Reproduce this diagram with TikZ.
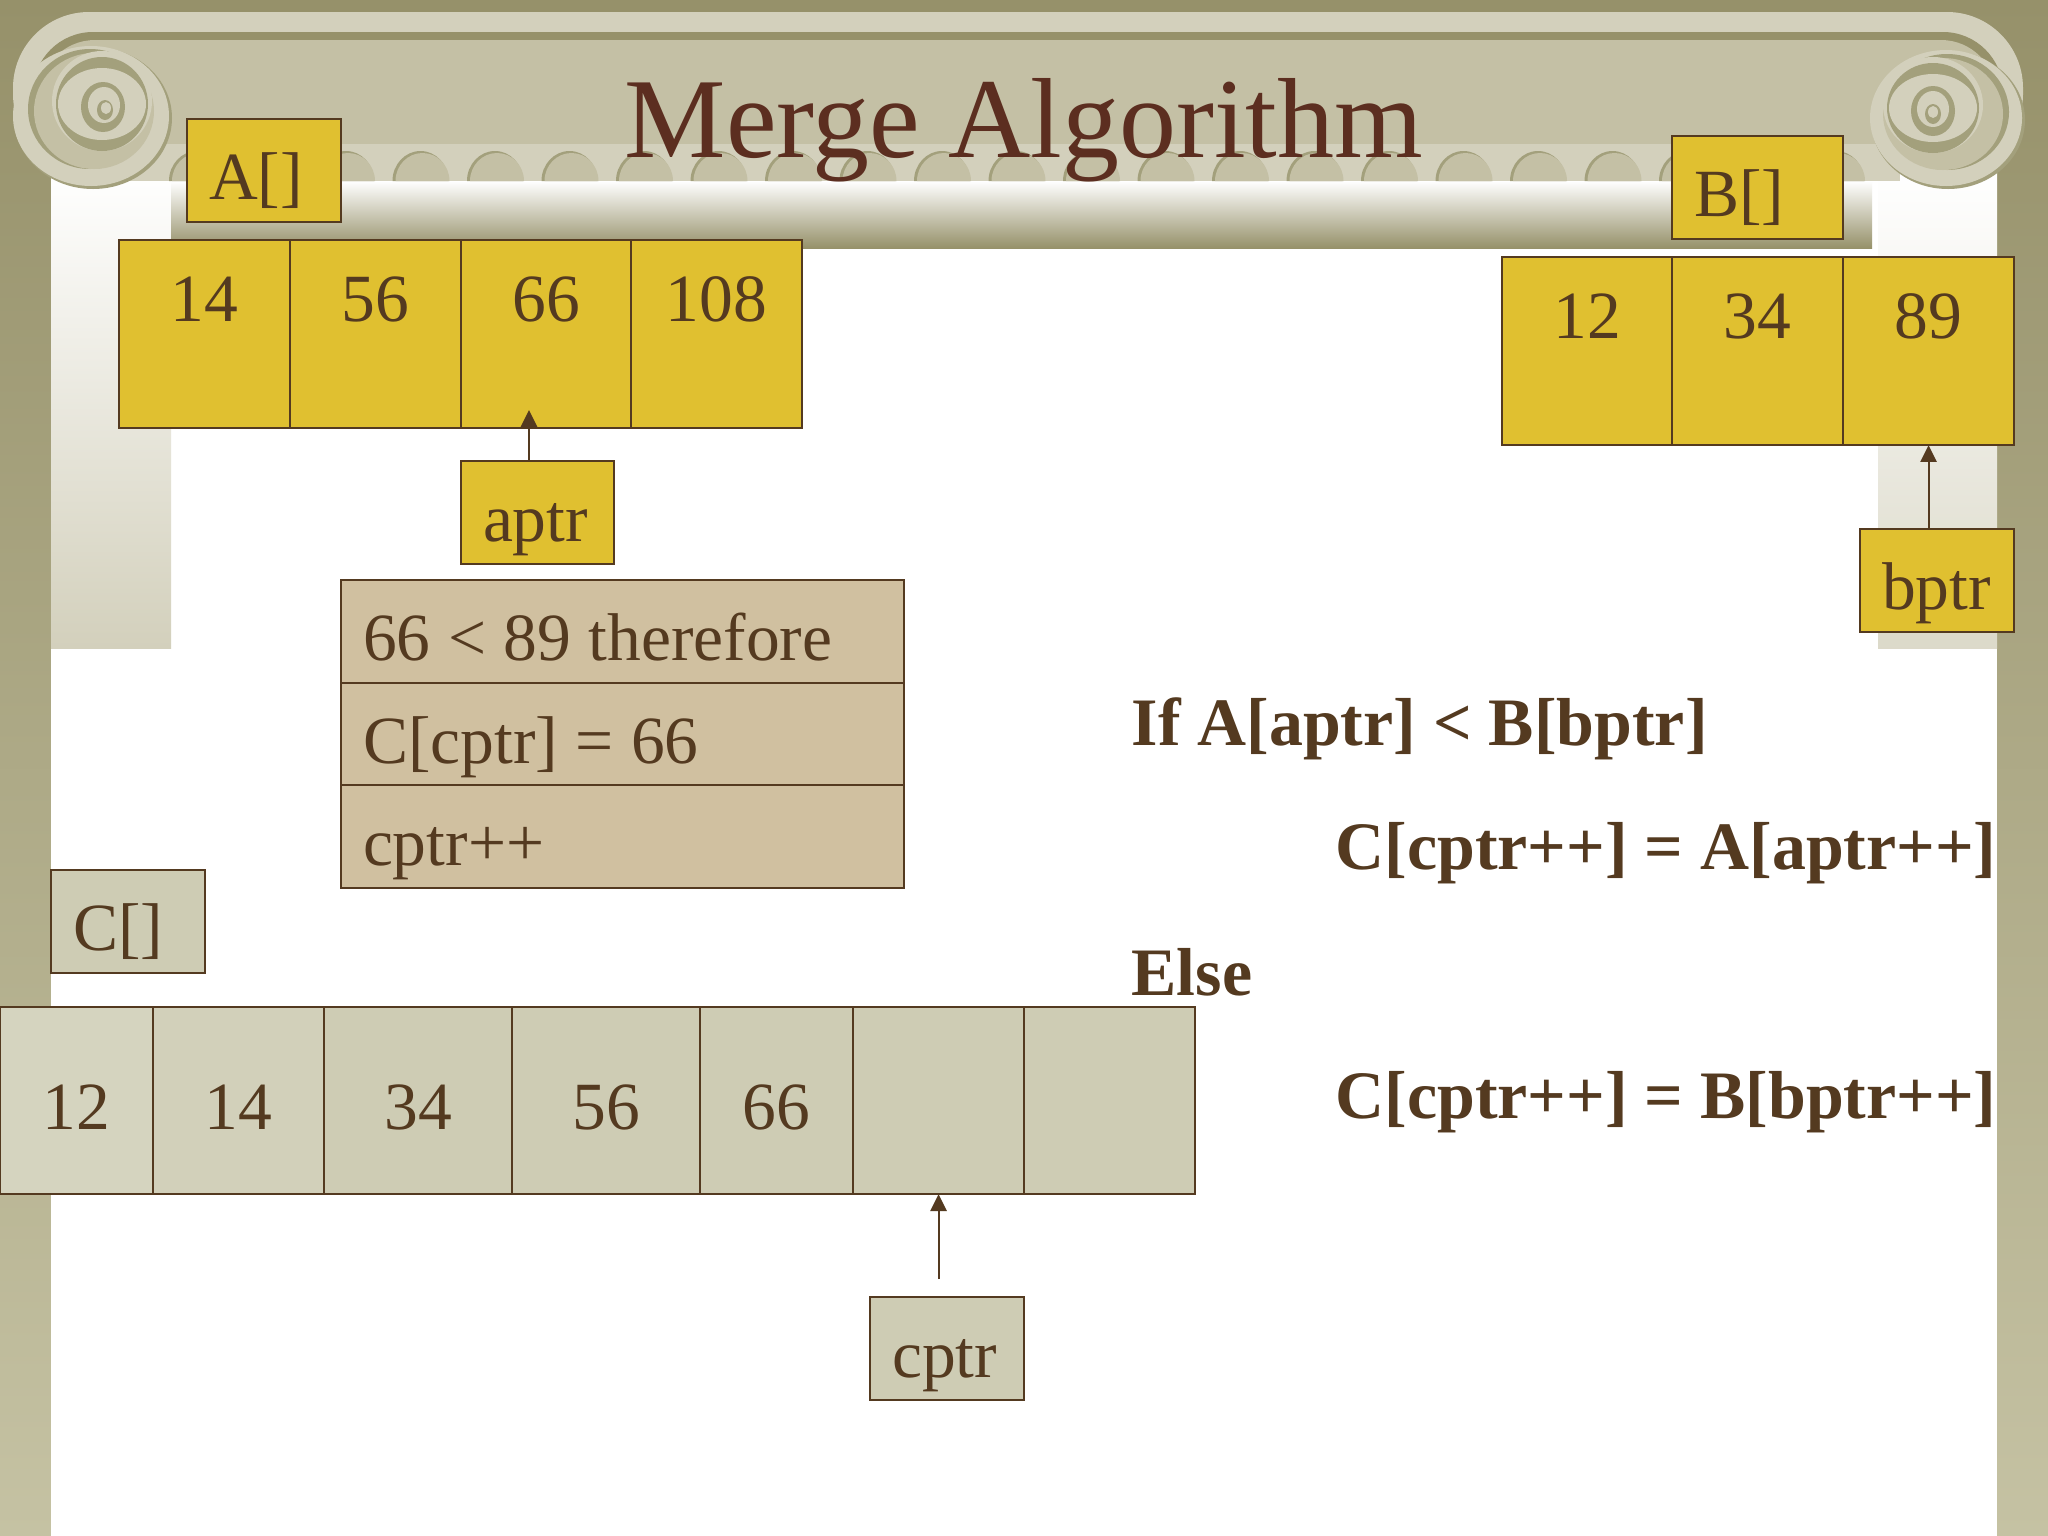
\documentclass[tikz,border=0pt]{standalone}
\usepackage{fontspec}
\setmainfont{Liberation Serif}
\usetikzlibrary{arrows.meta}
\definecolor{ink}{RGB}{84,58,32}
\definecolor{titleink}{RGB}{92,46,32}
\definecolor{gold}{RGB}{224,192,48}
\definecolor{tan}{RGB}{208,192,160}
\definecolor{stone}{RGB}{206,204,180}
\definecolor{olive}{RGB}{150,145,106}
\definecolor{oliveb}{RGB}{197,194,163}
\definecolor{body}{RGB}{196,192,165}
\definecolor{band}{RGB}{211,208,188}
\definecolor{ringd}{RGB}{163,160,124}
\tikzstyle{box}=[draw=ink,line width=0.6pt,anchor=north west,outer sep=0pt,inner sep=0pt,text=ink,font=\fontsize{19.2}{23}\selectfont]
\tikzstyle{cell}=[box,fill=gold,text height=0.81cm,text depth=1.07cm,align=center]
\tikzstyle{ccell}=[box,fill=stone,text height=1.22cm,text depth=0.65cm,align=center]
\tikzstyle{tag}=[box,fill=gold,align=left,inner xsep=0.22cm,text height=0.8cm,text depth=0.23cm]
\tikzstyle{row}=[tag,fill=tan,text width=5.19cm,execute at begin node={\setlength{\spaceskip}{0.26em}}]
\tikzstyle{code}=[anchor=base west,inner sep=0pt,text=ink,font=\fontsize{19.3}{23}\selectfont\bfseries]
\tikzstyle{pointer}=[draw=ink,line width=0.6pt,-{Triangle[length=4.8pt,width=4.6pt]}]
\begin{document}
\begin{tikzpicture}[x=0.01cm,y=-0.01cm]

            % wall and columns
            \shade[top color=olive,bottom color=oliveb] (0,0) rectangle (2048,1536);
            \fill[white] (51,100) rectangle (1997,1536);
            \shade[top color=white,bottom color=band] (51,170) rectangle (171,648);
            \shade[top color=white,bottom color=band!80!white] (1878,170) rectangle (1997,648);
            \shade[top color=white,bottom color=olive] (171,181) rectangle (1872,248);

            % capital
            \fill[band,rounded corners=0.76cm] (13,12) rectangle (2023,170);
            \fill[olive,rounded corners=0.6cm] (33,32) rectangle (2003,170);
            \fill[body,rounded corners=0.55cm] (40,40) rectangle (1996,170);
            \fill[band] (120,144) rectangle (1900,181);
            \foreach \i in {0,...,22} {
                \fill[ringd] ({169+74.5*\i},181) arc[start angle=180,end angle=360,x radius=28,y radius=30];
                \fill[body] ({172+74.5*\i},181) arc[start angle=180,end angle=360,x radius=27,y radius=28];
            }

            % volutes
            \begin{scope}[shift={(92,116)}]
                \fill[ringd] (1,2) ellipse (79 and 71);
                \fill[band] (-1,0) ellipse (78 and 70);
                \fill[ringd] (-2,-7) ellipse (62 and 60);
                \fill[body] (2,-5) ellipse (60 and 58);
                \fill[band] (10,-15) ellipse (50 and 50);
                \fill[ringd] (10,-12) ellipse (46 and 47);
                \fill[band] (10,-12) ellipse (44 and 36);
                \fill[ringd] (11,-9) ellipse (22 and 25);
                \fill[band] (12,-11) ellipse (16 and 18);
                \fill[ringd] (13,-6) ellipse (8 and 10);
                \fill[band] (14,-8) ellipse (5 and 6);
            \end{scope}
            \begin{scope}[shift={(1947,118)}]
                \fill[ringd] (1,2) ellipse (77 and 69);
                \fill[band] (-1,0) ellipse (76 and 68);
                \fill[ringd] (0,-6) ellipse (62 and 58);
                \fill[body] (-4,-4) ellipse (60 and 56);
                \fill[band] (-14,-13) ellipse (50 and 48);
                \fill[ringd] (-14,-10) ellipse (46 and 45);
                \fill[band] (-14,-10) ellipse (44 and 34);
                \fill[ringd] (-14,-7) ellipse (22 and 25);
                \fill[band] (-14,-9) ellipse (16 and 18);
                \fill[ringd] (-14,-4) ellipse (8 and 10);
                \fill[band] (-14,-6) ellipse (5 and 6);
            \end{scope}

            \node[anchor=base west,inner sep=0pt,text=titleink,font=\fontsize{32.4}{38}\selectfont] (title) at (624,157) {Merge Algorithm};

            % array A
            \node[tag,text width=1.1cm] (atag) at (187,119) {A[]};
            \node[cell,minimum width=1.71cm] (a1) at (119,240) {14};
            \node[cell,minimum width=1.71cm] (a2) at (290,240) {56};
            \node[cell,minimum width=1.70cm] (a3) at (461,240) {66};
            \node[cell,minimum width=1.71cm] (a4) at (631,240) {108};
            \node[tag,text width=1.09cm] (aptr) at (461,461) {aptr};
            \coordinate (atip) at (529,410);
            \path[pointer] (aptr.north -| atip) -- (atip);

            % array B
            \node[tag,text width=1.27cm] (btag) at (1672,136) {B[]};
            \node[cell,minimum width=1.70cm] (b1) at (1502,257) {12};
            \node[cell,minimum width=1.71cm] (b2) at (1672,257) {34};
            \node[cell,minimum width=1.71cm] (b3) at (1843,257) {89};
            \node[tag,text width=1.10cm] (bptr) at (1860,529) {bptr};
            \path[pointer] (bptr.north -| b3.south) -- (b3.south);

            % comparison
            \node[row] (cmp1) at (341,580) {66 < 89 therefore};
            \node[row] (cmp2) at (341,683) {C[cptr] = 66};
            \node[row] (cmp3) at (341,785) {cptr++};

            % array C
            \node[tag,fill=stone,text width=1.10cm] (ctag) at (51,870) {C[]};
            \node[ccell,fill=stone!85!white,minimum width=1.53cm] (c1) at (0,1007) {12};
            \node[ccell,fill=stone!92!white,minimum width=1.71cm] (c2) at (153,1007) {14};
            \node[ccell,minimum width=1.88cm] (c3) at (324,1007) {34};
            \node[ccell,minimum width=1.88cm] (c4) at (512,1007) {56};
            \node[ccell,minimum width=1.53cm] (c5) at (700,1007) {66};
            \node[ccell,minimum width=1.71cm] (c6) at (853,1007) {};
            \node[ccell,minimum width=1.71cm] (c7) at (1024,1007) {};
            \node[tag,fill=stone,text width=1.10cm] (cptr) at (870,1297) {cptr};
            \coordinate (cfoot) at (c6.south |- 0,1279);
            \path[pointer] (cfoot) -- (c6.south);

            % pseudocode
            \node[code] (if) at (1131,745) {If A[aptr] < B[bptr]};
            \node[code] (then) at (1335,869) {C[cptr++] = A[aptr++]};
            \node[code] (else) at (1131,995) {Else};
            \node[code] (other) at (1335,1118) {C[cptr++] = B[bptr++]};

            \pgfresetboundingbox
            \path [use as bounding box] (0,0) rectangle (2048,1536);
        \end{tikzpicture}
\end{document}
